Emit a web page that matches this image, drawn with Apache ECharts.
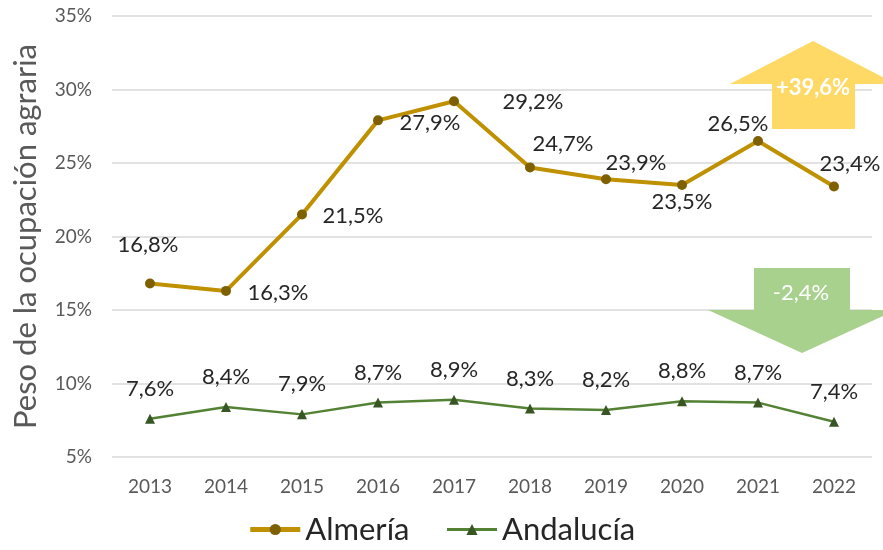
<!DOCTYPE html>
<html>
<head>
    <meta charset="utf-8">
    <title>Peso de la ocupación agraria</title>
    <script src="https://cdn.jsdelivr.net/npm/echarts@6/dist/echarts.min.js"></script>
</head>
<body style="margin:0">
    <div id="main" style="width: 883px;height:550px;"></div>
    <script type="text/javascript">
        var years = ['2013', '2014', '2015', '2016', '2017', '2018', '2019', '2020', '2021', '2022'];
        var almeria = [16.8, 16.3, 21.5, 27.9, 29.2, 24.7, 23.9, 23.5, 26.5, 23.4];
        var andalucia = [7.6, 8.4, 7.9, 8.7, 8.9, 8.3, 8.2, 8.8, 8.7, 7.4];
        var yTicks = [5, 10, 15, 20, 25, 30, 35];
        var cambioAlmeria = '+39,6%';
        var cambioAndalucia = '-2,4%';

        var font = 'Lato, "Open Sans", sans-serif';
        // desplazamiento de cada etiqueta de Almería respecto al punto
        var almeriaOffsets = [[-2, -39], [52, 2], [51, 1], [52, 3], [79, 1], [33, -24], [30, -16], [0, 17], [-20, -17], [16, -23]];

        function pct(v) {
            return String(v).replace('.', ',') + '%';
        }

        var myChart = echarts.init(document.getElementById('main'));

        var option = {
            animation: false,
            textStyle: { fontFamily: font },
            grid: { left: 112, right: 11, top: 16, bottom: 93 },
            legend: {
                bottom: 0,
                itemWidth: 50,
                itemHeight: 14,
                itemGap: 36,
                textStyle: { fontSize: 31, color: '#262626', fontFamily: font },
                data: [
                    { name: 'Almería', lineStyle: { width: 5 } },
                    { name: 'Andalucía', lineStyle: { width: 3 } }
                ]
            },
            xAxis: {
                type: 'category',
                data: years,
                axisLine: { show: false },
                axisTick: { show: false },
                axisLabel: { color: '#595959', fontSize: 19, margin: 20 }
            },
            yAxis: {
                type: 'value',
                min: yTicks[0],
                max: yTicks[yTicks.length - 1],
                interval: 5,
                name: 'Peso de la ocupación agraria',
                nameLocation: 'middle',
                nameGap: 71,
                nameTextStyle: { fontSize: 31, color: '#595959', fontFamily: font },
                axisLabel: { color: '#595959', fontSize: 19, margin: 20, formatter: '{value}%' },
                splitLine: { lineStyle: { color: '#D9D9D9', width: 1.5 } }
            },
            series: [{
                name: 'Almería',
                type: 'line',
                data: almeria.map(function (v, i) {
                    return { value: v, label: { offset: almeriaOffsets[i] } };
                }),
                symbol: 'circle',
                symbolSize: 10,
                lineStyle: { color: '#BF9000', width: 4 },
                itemStyle: { color: '#7F6000' },
                label: {
                    show: true,
                    position: 'inside',
                    fontSize: 22,
                    color: '#262626',
                    formatter: function (p) { return pct(p.value); }
                },
                z: 3
            }, {
                name: 'Andalucía',
                type: 'line',
                data: andalucia,
                symbol: 'triangle',
                symbolSize: 10,
                lineStyle: { color: '#548235', width: 2.5 },
                itemStyle: { color: '#375623' },
                label: {
                    show: true,
                    position: 'inside',
                    offset: [0, -30],
                    fontSize: 22,
                    color: '#262626',
                    formatter: function (p) { return pct(p.value); }
                }
            }],
            graphic: [{
                type: 'polygon',
                shape: { points: [[813, 41], [896, 84], [855, 84], [855, 129], [772, 129], [772, 84], [730, 84]] },
                style: { fill: '#FFD966' },
                z: 10
            }, {
                type: 'text',
                x: 813, y: 88,
                style: { text: cambioAlmeria, fill: '#fff', font: 'bold 22px ' + font, align: 'center', verticalAlign: 'middle' },
                z: 11
            }, {
                type: 'polygon',
                shape: { points: [[754, 268], [850, 268], [850, 310], [896, 310], [802, 353], [708, 310], [754, 310]] },
                style: { fill: '#A9D18E' },
                z: 10
            }, {
                type: 'text',
                x: 801, y: 293,
                style: { text: cambioAndalucia, fill: '#fff', font: '22px ' + font, align: 'center', verticalAlign: 'middle' },
                z: 11
            }]
        };

        myChart.setOption(option);
    </script>
</body>
</html>
